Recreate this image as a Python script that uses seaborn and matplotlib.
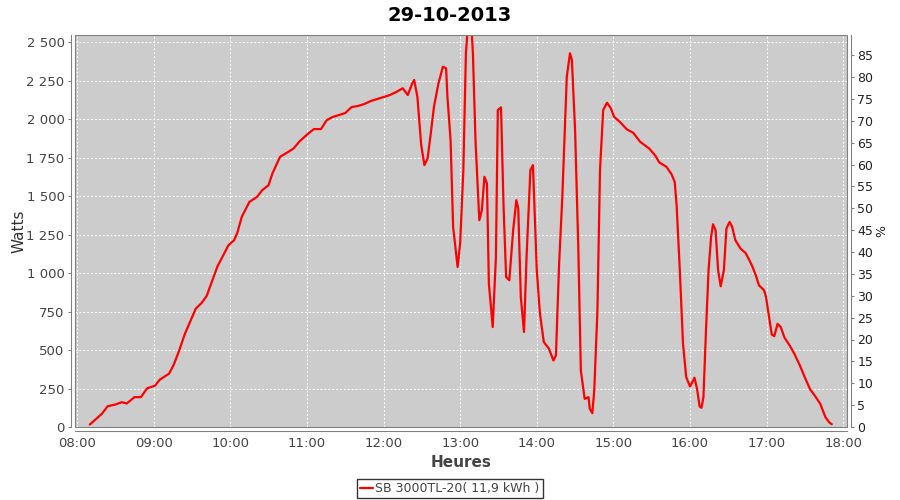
import pandas as pd
import numpy as np
import matplotlib
matplotlib.use("Agg")
import matplotlib.pyplot as plt
import matplotlib.dates as mdates
from matplotlib.ticker import FuncFormatter, MultipleLocator
from matplotlib.patches import Rectangle
import seaborn as sns

# Power readings (time of day, watts)
heures = ["08:10:00", "08:19:30", "08:24:00", "08:30:00", "08:35:00", "08:39:00", "08:45:00", "08:50:00",
          "08:55:00", "09:01:00", "09:05:00", "09:12:00", "09:15:30", "09:20:00", "09:24:30", "09:28:30",
          "09:33:00", "09:37:30", "09:41:30", "09:45:30", "09:50:00", "09:54:30", "09:58:30", "10:03:00",
          "10:05:30", "10:09:00", "10:15:00", "10:21:00", "10:25:00", "10:30:00", "10:33:00", "10:39:00",
          "10:45:30", "10:49:30", "10:54:30", "11:00:30", "11:05:30", "11:11:00", "11:15:30", "11:20:00",
          "11:25:00", "11:30:00", "11:35:00", "11:40:00", "11:45:00", "11:50:00", "11:55:00", "12:00:00",
          "12:05:00", "12:10:00", "12:15:00", "12:19:00", "12:22:30", "12:24:00", "12:26:30", "12:29:30",
          "12:32:00", "12:34:30", "12:37:00", "12:39:30", "12:43:00", "12:46:30", "12:49:00", "12:50:00",
          "12:52:30", "12:54:30", "12:58:00", "13:00:00", "13:02:30", "13:04:30", "13:06:30", "13:08:30",
          "13:10:00", "13:12:00", "13:15:00", "13:17:00", "13:19:00", "13:21:00", "13:22:30", "13:25:30",
          "13:28:00", "13:29:30", "13:32:00", "13:34:00", "13:36:00", "13:38:30", "13:41:30", "13:44:00",
          "13:45:30", "13:47:30", "13:50:00", "13:52:00", "13:55:00", "13:57:00", "14:00:00", "14:02:30",
          "14:05:30", "14:09:30", "14:13:00", "14:15:00", "14:17:30", "14:20:00", "14:23:30", "14:26:00",
          "14:27:30", "14:30:00", "14:32:30", "14:34:30", "14:37:30", "14:40:30", "14:41:30", "14:43:30",
          "14:45:00", "14:47:30", "14:49:30", "14:52:00", "14:55:00", "14:58:00", "15:00:30", "15:05:00",
          "15:10:30", "15:15:30", "15:21:00", "15:28:00", "15:32:30", "15:36:00", "15:41:30", "15:45:30",
          "15:48:00", "15:49:30", "15:52:00", "15:54:30", "15:57:00", "16:00:00", "16:03:30", "16:05:30",
          "16:07:30", "16:09:00", "16:10:30", "16:12:30", "16:14:30", "16:16:30", "16:18:00", "16:20:00",
          "16:22:00", "16:24:00", "16:26:30", "16:28:30", "16:31:00", "16:33:00", "16:35:30", "16:39:30",
          "16:43:30", "16:46:30", "16:49:00", "16:51:30", "16:54:00", "16:58:00", "16:59:30", "17:01:30",
          "17:04:00", "17:06:00", "17:08:30", "17:11:00", "17:14:00", "17:18:00", "17:22:00", "17:26:00",
          "17:30:00", "17:34:00", "17:38:00", "17:42:00", "17:46:00", "17:49:00", "17:51:00"]
watts = [16, 86, 135, 146, 161, 153, 194, 194,
         252, 268, 309, 346, 400, 497, 606, 682,
         769, 805, 851, 942, 1044, 1115, 1180, 1213,
         1261, 1365, 1462, 1495, 1538, 1571, 1647, 1755,
         1787, 1809, 1857, 1902, 1935, 1935, 1993, 2013,
         2026, 2039, 2078, 2085, 2098, 2117, 2130, 2143,
         2156, 2176, 2200, 2156, 2232, 2254, 2145, 1831,
         1701, 1744, 1907, 2080, 2232, 2340, 2330, 2150,
         1863, 1300, 1039, 1192, 1668, 2427, 2650, 2650,
         2427, 1863, 1343, 1408, 1625, 1582, 931, 649,
         1104, 2059, 2076, 1430, 974, 953, 1278, 1473,
         1419, 844, 617, 1104, 1668, 1701, 1018, 736,
         552, 509, 432, 465, 1061, 1495, 2275, 2427,
         2384, 1928, 1170, 367, 183, 194, 118, 90,
         237, 758, 1668, 2059, 2106, 2070, 2015, 1982,
         1933, 1911, 1852, 1809, 1766, 1718, 1690, 1642,
         1592, 1441, 1018, 541, 324, 263, 320, 248,
         133, 125, 194, 628, 1018, 1235, 1317, 1278,
         1018, 914, 1018, 1289, 1332, 1300, 1213, 1159,
         1130, 1083, 1039, 985, 920, 888, 844, 736,
         600, 590, 670, 650, 580, 530, 470, 400,
         320, 245, 200, 150, 64, 30, 18]

jour = "2013-10-29"
titre = "29-10-2013"
serie = "SB 3000TL-20( 11,9 kWh )"
pct_ticks = list(range(0, 90, 5))

df = pd.DataFrame({"heure": pd.to_datetime([jour + " " + h for h in heures]), "watts": watts})

sns.set_style("white")
plt.rcParams["font.family"] = ["DejaVu Sans"]

fig = plt.figure(figsize=(9, 5), dpi=100)
ax = fig.add_axes([75 / 900, 1 - 427 / 500, 772 / 900, 392 / 500])
ax.set_facecolor("#cccccc")

sns.lineplot(data=df, x="heure", y="watts", ax=ax, color="red", linewidth=1.6,
             sort=False, estimator=None, label=serie, legend=False)

# axes ranges
ax.set_xlim(pd.Timestamp(jour + " 07:58:25"), pd.Timestamp(jour + " 18:02:55"))
ax.set_ylim(0, 2546)
ax.yaxis.set_major_locator(MultipleLocator(250))
ax.yaxis.set_major_formatter(FuncFormatter(lambda v, p: f"{int(v):,}".replace(",", " ")))
ax.xaxis.set_major_locator(mdates.HourLocator())
ax.xaxis.set_major_formatter(mdates.DateFormatter("%H:%M"))

ax.grid(True, color="white", linestyle=(0, (2, 2)), linewidth=0.7)
ax.set_axisbelow(True)

axis_grey = "#808080"
for side in ["left", "bottom", "right"]:
    ax.spines[side].set_position(("outward", 3))
    ax.spines[side].set_color(axis_grey)
ax.spines["right"].set_visible(False)
ax.spines["top"].set_visible(False)
ax.add_patch(Rectangle((0, 0), 1, 1, transform=ax.transAxes, fill=False,
                       edgecolor=axis_grey, linewidth=0.8, zorder=5, clip_on=False))

ax.tick_params(axis="both", colors=axis_grey, length=2.5, width=0.8, labelsize=9.5,
               labelcolor="#444444", pad=2)
ax.set_xlabel("Heures", fontsize=11, fontweight="bold", color="#444444", labelpad=3)
ax.set_ylabel("Watts", fontsize=11, color="#333333", labelpad=0)
ax.set_title(titre, fontsize=14, fontweight="bold", color="black", pad=10,
             x=(450 - 75) / 772)

# right-hand percentage axis
ax2 = ax.twinx()
ax2.set_ylim(0, 89.6)
ax2.set_yticks(pct_ticks)
ax2.spines["right"].set_position(("outward", 3))
ax2.spines["right"].set_color(axis_grey)
for side in ["left", "top", "bottom"]:
    ax2.spines[side].set_visible(False)
ax2.tick_params(axis="y", colors=axis_grey, length=2.5, width=0.8, labelsize=9,
                labelcolor="#222222", pad=2)
ax2.set_ylabel("%", fontsize=9, color="#222222", labelpad=1)

handles, labels = ax.get_legend_handles_labels()
leg = fig.legend(handles, labels, loc="lower center", bbox_to_anchor=(0.5, 0.004),
                 frameon=True, fancybox=False, edgecolor="black", fontsize=9,
                 handlelength=1.0, handletextpad=0.2, borderpad=0.25, borderaxespad=0)
leg.get_frame().set_linewidth(1.0)
for t in leg.get_texts():
    t.set_color("#444444")

fig.savefig("out.png", dpi=100)
